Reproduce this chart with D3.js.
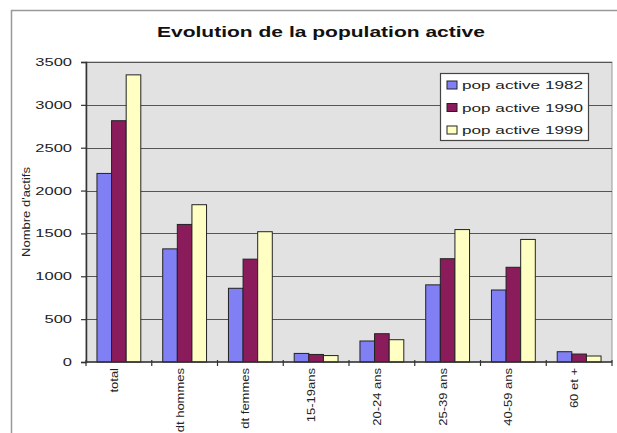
<!DOCTYPE html>
<html><head><meta charset="utf-8">
<script src="https://cdn.jsdelivr.net/npm/d3@7"></script>
<style>body{margin:0;background:#fff}svg{display:block}</style>
</head><body>
<svg id="c" width="617" height="433"></svg>
<script>
const title = "Evolution de la population active";
const yTitle = "Nombre d'actifs";
const categories = ["total","dt hommes","dt femmes","15-19ans","20-24 ans","25-39 ans","40-59 ans","60 et +"];
const seriesNames = ["pop active 1982","pop active 1990","pop active 1999"];
const pop1982 = [2200,1320,860,100,245,900,840,120];
const pop1990 = [2815,1605,1200,88,330,1205,1105,93];
const pop1999 = [3350,1835,1520,75,260,1545,1430,70];
const yTicks = [0,500,1000,1500,2000,2500,3000,3500];
const colors = ["#8080f4","#8b1c5c","#ffffc4"];

const series = [pop1982,pop1990,pop1999];
const svg = d3.select("#c");
const m = {l:86, t:62, r:612, b:362};
const FONT = "Liberation Sans, Arial, sans-serif";

function stretch(sel, factor){
  sel.each(function(){
    const len = this.getComputedTextLength();
    d3.select(this).attr("textLength", len*factor).attr("lengthAdjust","spacingAndGlyphs");
  });
}

// outer chart border
svg.append("rect").attr("x",11.5).attr("y",10.5).attr("width",640).attr("height",440)
  .attr("fill","#fff").attr("stroke","#999").attr("stroke-width",1.5);

const x0 = d3.scaleBand().domain(categories).range([m.l,m.r]).paddingInner(0).paddingOuter(0);
const x1 = d3.scaleBand().domain(d3.range(3)).range([0,x0.bandwidth()]).paddingInner(0).paddingOuter(0.75);
const y = d3.scaleLinear().domain([0,3500]).range([m.b,m.t]);

// plot area
svg.append("rect").attr("x",m.l).attr("y",m.t).attr("width",m.r-m.l).attr("height",m.b-m.t)
  .attr("fill","#e2e2e2").attr("stroke","#9a9a9a").attr("stroke-width",1);

// gridlines
svg.append("g").selectAll("line").data(yTicks.filter(d=>d>0)).join("line")
  .attr("x1",m.l).attr("x2",m.r).attr("y1",d=>Math.round(y(d))+0.5).attr("y2",d=>Math.round(y(d))+0.5)
  .attr("stroke","#555").attr("stroke-width",1.2);

// bars
const g = svg.append("g");
series.forEach((s,si)=>{
  g.selectAll(null).data(s).join("rect")
    .attr("x",(d,i)=>x0(categories[i])+x1(si))
    .attr("y",d=>y(d))
    .attr("width",x1.bandwidth())
    .attr("height",d=>y(0)-y(d))
    .attr("fill",colors[si]).attr("stroke","#222").attr("stroke-width",1);
});

// y axis
const ya = svg.append("g").attr("transform",`translate(${m.l},0)`)
  .call(d3.axisLeft(y).tickValues(yTicks).tickSize(5).tickPadding(9).tickFormat(d3.format("d")));
ya.select(".domain").attr("stroke","#333").attr("stroke-width",1.5);
ya.selectAll(".tick line").attr("stroke","#333").attr("stroke-width",1.2);
ya.selectAll("text").attr("font-family",FONT).attr("font-size",11).attr("fill","#222");
stretch(ya.selectAll("text"),1.5);

// x axis
const xa = svg.append("g").attr("transform",`translate(0,${m.b})`);
xa.append("line").attr("x1",m.l).attr("x2",m.r).attr("stroke","#333").attr("stroke-width",1.5);
xa.selectAll(".tk").data(d3.range(categories.length+1)).join("line")
  .attr("x1",i=>m.l+i*x0.step()).attr("x2",i=>m.l+i*x0.step())
  .attr("y1",-2).attr("y2",4).attr("stroke","#333").attr("stroke-width",1.2);
const xl = xa.selectAll(".lbl").data(categories).join("text")
  .attr("transform",d=>`translate(${x0(d)+x0.bandwidth()/2-1},6) rotate(-90)`)
  .attr("text-anchor","end")
  .attr("font-family",FONT).attr("font-size",10).attr("fill","#222")
  .text(d=>d);
stretch(xl,1.3);

// y title
const yt = svg.append("text").attr("transform",`translate(30,${(m.t+m.b)/2}) rotate(-90)`)
  .attr("text-anchor","middle").attr("font-family",FONT)
  .attr("font-size",10).attr("fill","#222").text(yTitle);
stretch(yt,1.3);

// title
const tt = svg.append("text").attr("x",321).attr("y",37).attr("text-anchor","middle")
  .attr("font-family",FONT).attr("font-weight","bold")
  .attr("font-size",15).attr("fill","#111").text(title);
tt.attr("textLength",328).attr("lengthAdjust","spacingAndGlyphs");

// legend
const lg = svg.append("g");
lg.append("rect").attr("x",440.5).attr("y",73.5).attr("width",148).attr("height",67)
  .attr("fill","#fff").attr("stroke","#444").attr("stroke-width",1.2);
seriesNames.forEach((n,i)=>{
  const cy = 85 + i*22.5;
  lg.append("rect").attr("x",447).attr("y",cy-4).attr("width",10).attr("height",8)
    .attr("fill",colors[i]).attr("stroke","#222");
  lg.append("text").attr("x",462).attr("y",cy+4).attr("font-family",FONT)
    .attr("font-size",11).attr("fill","#222").text(n)
    .attr("textLength",121).attr("lengthAdjust","spacingAndGlyphs");
});
</script>
</body></html>
